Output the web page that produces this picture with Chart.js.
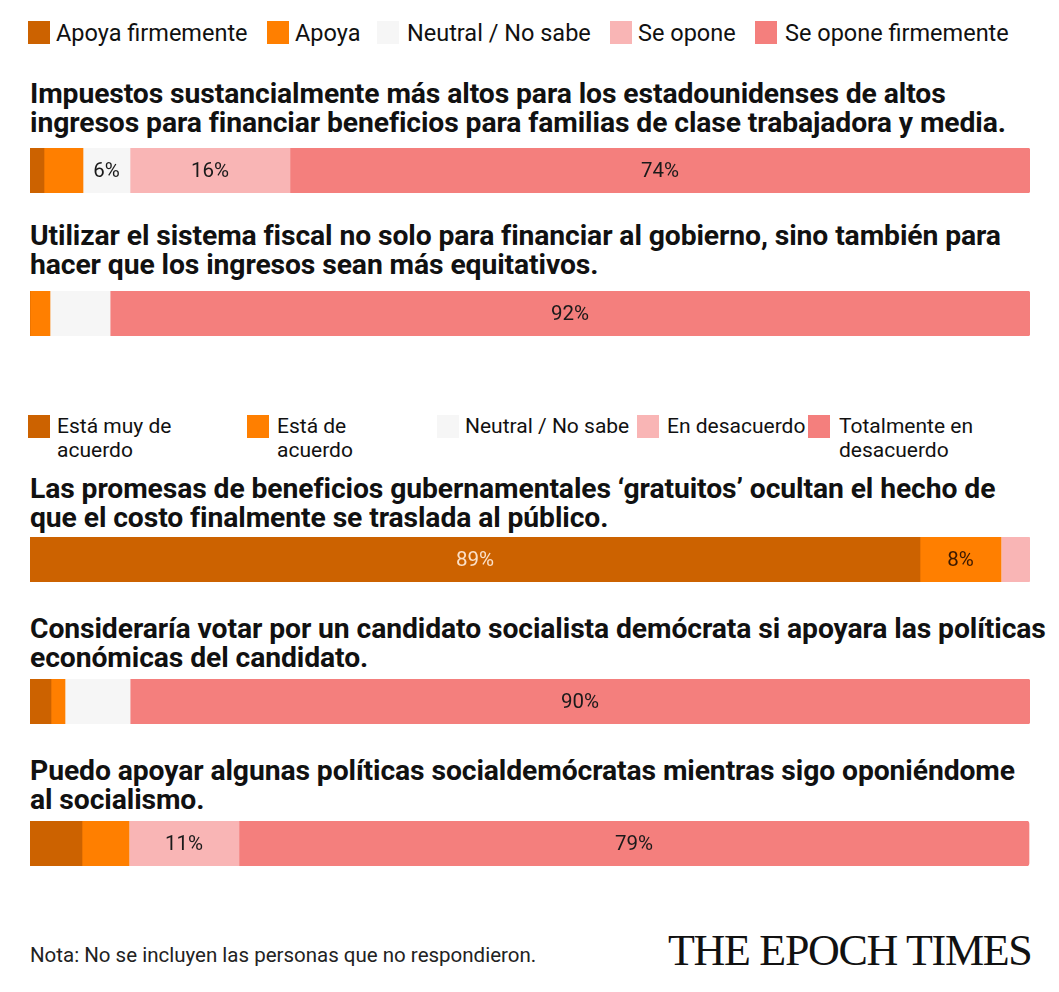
<!DOCTYPE html>
<html>
<head>
<meta charset="utf-8">
<script src="https://cdn.jsdelivr.net/npm/chart.js@4"></script>
<style>
  html, body { margin: 0; padding: 0; background: #fff; }
  body { width: 1059px; height: 992px; position: relative; overflow: hidden; font-family: Roboto, "Noto Sans", sans-serif; color: #111; }
  .legend { position: absolute; left: 0; font-size: 23.5px; }
  .item { position: absolute; top: 0; }
  .sw { position: absolute; top: 0; width: 22px; height: 23px; }
  .lt { position: absolute; top: -2px; white-space: nowrap; }
  .legend2 { font-size: 21px; line-height: 23.5px; }
  .legend2 .lt { top: 0px; }
  .title { position: absolute; left: 30px; font-weight: 700; font-size: 28.3px; line-height: 28.5px; white-space: nowrap; letter-spacing: -0.1px; }
  .bar { position: absolute; left: 30px; width: 1000px; height: 45px; }
  .note { position: absolute; left: 30px; top: 943px; font-size: 20.5px; color: #222; }
  .logo { position: absolute; left: 668px; top: 925px; font-family: "Liberation Serif", "DejaVu Serif", serif; font-size: 44px; color: #111; letter-spacing: -1.3px; white-space: nowrap; }
</style>
</head>
<body>
<div id="legend1" class="legend" style="top:21px"></div>
<div id="legend2" class="legend legend2" style="top:415px"></div>

<div id="t0" class="title" style="top:80px"></div>
<div class="bar" style="top:148px"><canvas id="c0"></canvas></div>
<div id="t1" class="title" style="top:222px"></div>
<div class="bar" style="top:291px"><canvas id="c1"></canvas></div>
<div id="t2" class="title" style="top:475px"></div>
<div class="bar" style="top:537px"><canvas id="c2"></canvas></div>
<div id="t3" class="title" style="top:615px"></div>
<div class="bar" style="top:679px"><canvas id="c3"></canvas></div>
<div id="t4" class="title" style="top:757px"></div>
<div class="bar" style="top:821px"><canvas id="c4"></canvas></div>

<div class="note">Nota: No se incluyen las personas que no respondieron.</div>
<div class="logo">THE EPOCH TIMES</div>

<script>
// questions (two lines each)
var questions = [
  ["Impuestos sustancialmente más altos para los estadounidenses de altos", "ingresos para financiar beneficios para familias de clase trabajadora y media."],
  ["Utilizar el sistema fiscal no solo para financiar al gobierno, sino también para", "hacer que los ingresos sean más equitativos."],
  ["Las promesas de beneficios gubernamentales ‘gratuitos’ ocultan el hecho de", "que el costo finalmente se traslada al público."],
  ["Consideraría votar por un candidato socialista demócrata si apoyara las políticas", "económicas del candidato."],
  ["Puedo apoyar algunas políticas socialdemócratas mientras sigo oponiéndome", "al socialismo."]
];

// legend labels
var legendTop = ["Apoya firmemente", "Apoya", "Neutral / No sabe", "Se opone", "Se opone firmemente"];
var legendBottom = ["Está muy de<br>acuerdo", "Está de<br>acuerdo", "Neutral / No sabe", "En desacuerdo", "Totalmente en<br>desacuerdo"];

// series values (% of respondents, per question)
var strongSupport = [1.4, 0, 89, 2.1, 5.2];
var support = [3.9, 2, 8.1, 1.4, 4.7];
var neutral = [4.7, 6, 0, 6.5, 0];
var oppose = [16, 0, 2.9, 0, 11];
var strongOppose = [74, 92, 0, 90, 79];

// printed labels as published
var strongSupportLabels = ["", "", "89%", "", ""];
var supportLabels = ["", "", "8%", "", ""];
var neutralLabels = ["6%", "", "", "", ""];
var opposeLabels = ["16%", "", "", "", "11%"];
var strongOpposeLabels = ["74%", "92%", "", "90%", "79%"];

var colors = ["#cc6200", "#ff7f00", "#f6f6f6", "#f9b5b5", "#f47f7d"];
var labelColors = ["#fbe0c8", "#3a1800", "#1a1a1a", "#1a1a1a", "#1a1a1a"];

function buildLegend(id, names, swX, txtX) {
  var el = document.getElementById(id);
  names.forEach(function (n, i) {
    var it = document.createElement("div");
    it.className = "item";
    it.innerHTML = '<div class="sw" style="left:' + swX[i] + 'px;background:' + colors[i] + '"></div>' +
      '<div class="lt" style="left:' + txtX[i] + 'px">' + n + '</div>';
    el.appendChild(it);
  });
}
buildLegend("legend1", legendTop, [28, 267, 377, 610, 755], [56, 295, 407, 638, 785]);
buildLegend("legend2", legendBottom, [28, 247, 437, 637, 808], [57, 277, 465, 667, 839]);

var segLabels = {
  id: "segLabels",
  afterDatasetsDraw: function (chart) {
    var ctx = chart.ctx;
    ctx.save();
    ctx.font = "20.5px Roboto, sans-serif";
    ctx.textAlign = "center";
    ctx.textBaseline = "middle";
    chart.data.datasets.forEach(function (ds, di) {
      var meta = chart.getDatasetMeta(di);
      meta.data.forEach(function (bar, j) {
        var txt = ds.printed[j];
        if (!txt) return;
        var p = bar.getProps(["x", "y", "base"], true);
        ctx.fillStyle = labelColors[di];
        ctx.fillText(txt, (p.x + p.base) / 2, p.y + 1);
      });
    });
    ctx.restore();
  }
};

var series = [strongSupport, support, neutral, oppose, strongOppose];
var printed = [strongSupportLabels, supportLabels, neutralLabels, opposeLabels, strongOpposeLabels];

questions.forEach(function (q, i) {
  document.getElementById("t" + i).innerHTML = q.join("<br>");
  var ctx = document.getElementById("c" + i).getContext("2d");
  new Chart(ctx, {
    type: "bar",
    data: {
      labels: [q[0]],
      datasets: series.map(function (s, k) {
        return {
          label: legendTop[k],
          data: [s[i]],
          printed: [printed[k][i]],
          backgroundColor: colors[k],
          borderWidth: 0,
          borderRadius: 3,
          barPercentage: 1,
          categoryPercentage: 1
        };
      })
    },
    options: {
      indexAxis: "y",
      responsive: true,
      maintainAspectRatio: false,
      animation: false,
      layout: { padding: 0 },
      scales: {
        x: { stacked: true, min: 0, max: 100, display: false },
        y: { stacked: true, display: false }
      },
      plugins: { legend: { display: false }, tooltip: { enabled: false } }
    },
    plugins: [segLabels]
  });
});
</script>
</body>
</html>
